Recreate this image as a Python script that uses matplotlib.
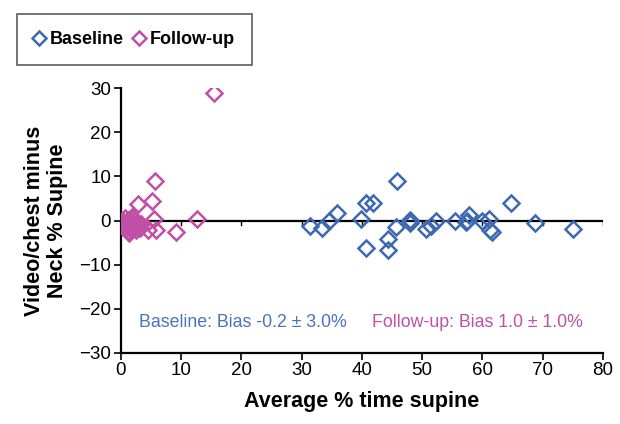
import numpy as np
import matplotlib
matplotlib.use("Agg")
import matplotlib.pyplot as plt

plt.rcParams['font.family'] = ['Liberation Sans', 'DejaVu Sans']

# baseline points (average % supine, difference)
base_x = [31.3, 33.4, 34.5, 35.9, 39.8, 40.6, 41.8, 40.6, 44.3, 44.3, 45.8, 45.7,
          47.9, 48.0, 50.7, 51.5, 52.3, 55.4, 57.2, 57.8, 57.4, 60.0, 61.1, 61.3,
          61.6, 64.7, 68.8, 75.1]
base_y = [-1.3, -1.7, -0.2, 1.7, 0.4, 3.9, 3.9, -6.3, -4.3, -6.6, 8.9, -1.5,
          0.15, -0.5, -2.0, -1.3, 0.0, 0.0, -0.4, 1.3, 0.0, 0.0, 0.4, -2.2,
          -2.6, 3.9, -0.6, -2.0]

# follow-up points
fu_x = [15.5, 5.6, 5.1, 2.8, 5.5, 5.8, 4.5, 9.1, 12.7,
        0.1, 0.4, 0.7, 1.0, 1.2, 1.5, 1.7, 2.0, 2.2, 2.5, 2.8, 3.2, 1.1, 1.9, 0.6, 2.4,
        0.9, 1.4, 2.1, 2.7, 3.4, 1.6, 0.3]
fu_y = [29.0, 8.9, 4.4, 3.8, 0.4, -2.1, -2.1, -2.5, 0.4,
        0.0, -0.3, 0.5, -1.0, 0.2, -1.8, -0.6, 0.3, -1.3, -2.2, -0.5, -1.6, -2.4, 0.8, -1.2, -0.2,
        -2.0, -2.8, -0.9, -1.4, -0.8, -0.1, -0.8]

base_col = '#3D69B3'
fu_col = '#C050A6'

fig = plt.figure(figsize=(6.2, 4.24), dpi=100)
ax = fig.add_axes([0.195, 0.168, 0.7775, 0.6237])

ax.axhline(0, color='black', lw=1.6, zorder=1)
for xt in range(10, 81, 10):
    ax.plot([xt, xt], [0, -0.9], color='black', lw=1.0, zorder=1)

mk = dict(marker='D', ls='none', ms=8, mfc='none', mew=1.8, zorder=3)
l1, = ax.plot(base_x, base_y, mec=base_col, label='Baseline', **mk)
l2, = ax.plot(fu_x, fu_y, mec=fu_col, label='Follow-up', **mk)

ax.set_xlim(0, 80)
ax.set_ylim(-30, 30)
ax.set_xticks(range(0, 81, 10))
ax.set_yticks(range(-30, 31, 10))
for s in ['top', 'right']:
    ax.spines[s].set_visible(False)
for s in ['left', 'bottom']:
    ax.spines[s].set_linewidth(1.6)
ax.tick_params(labelsize=13.5, width=1.2, length=5, pad=2)
ax.set_xlabel('Average % time supine', fontsize=15.5, fontweight='bold', labelpad=8)
ax.set_ylabel('Video/chest minus\nNeck % Supine', fontsize=15.5, fontweight='bold',
              labelpad=8, linespacing=1.15)

ax.text(3.0, -23.2, 'Baseline: Bias -0.2 \u00b1 3.0%', color='#4A72BF', fontsize=12.8,
        va='center', ha='left')
ax.text(41.6, -23.2, 'Follow-up: Bias 1.0 \u00b1 1.0%', color='#C050A6', fontsize=12.8,
        va='center', ha='left')

leg = fig.legend(handles=[l1, l2], loc='upper left', bbox_to_anchor=(0.027, 0.967),
                 ncol=2, frameon=True, fancybox=False, edgecolor='#333333',
                 prop={'weight': 'bold', 'size': 13}, handlelength=0.6,
                 handletextpad=0.3, columnspacing=0.5, borderpad=0.95,
                 borderaxespad=0, markerscale=0.85)
leg.get_frame().set_linewidth(1.2)

fig.savefig('out.png', dpi=100)
